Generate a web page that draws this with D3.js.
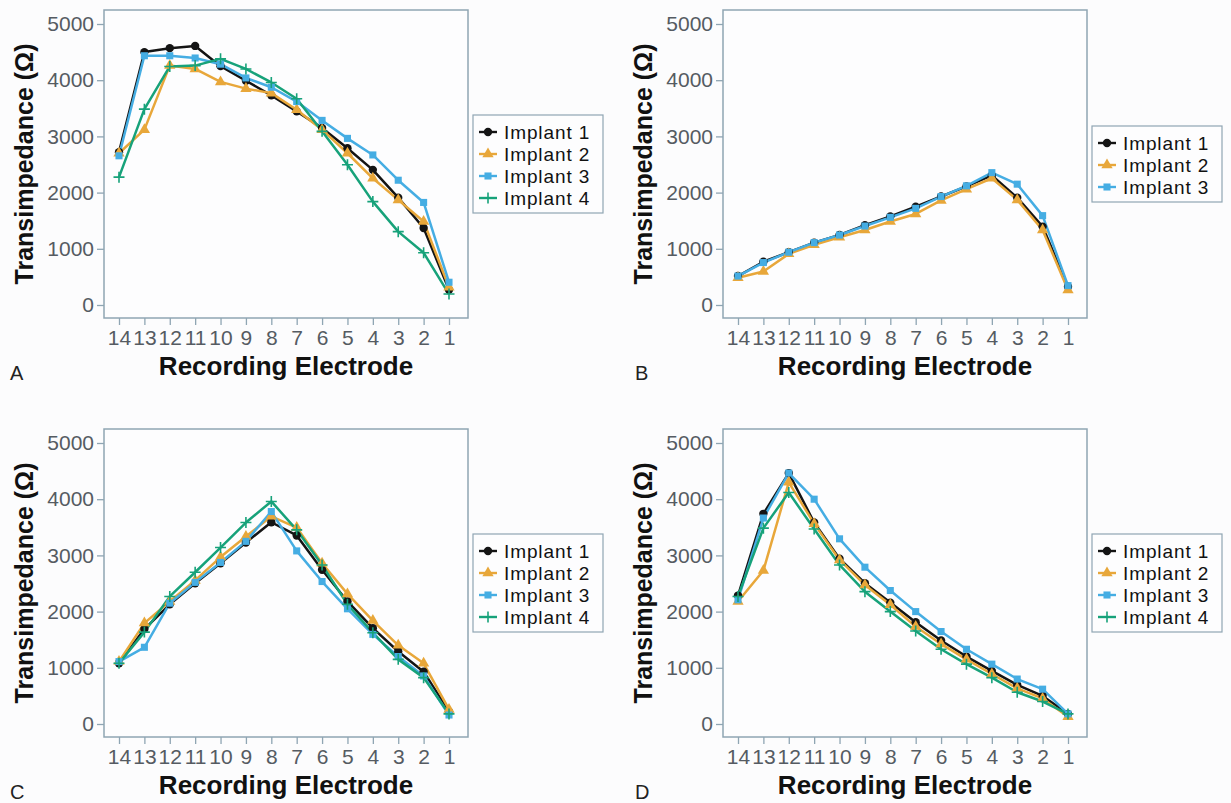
<!DOCTYPE html>
<html>
<head>
    <title>Transimpedance by recording electrode</title>
    <script src="https://d3js.org/d3.v7.min.js"></script>
    <style>
        body { margin: 0; background: #fcfcfd; }
        text { font-family: "Liberation Sans", Arial, sans-serif; }
    </style>
</head>
<body>
    <svg width="1231" height="803"></svg>
    <script>
        // Categories and tick labels
        const electrodes = ["14", "13", "12", "11", "10", "9", "8", "7", "6", "5", "4", "3", "2", "1"];
        const yTicks = [0, 1000, 2000, 3000, 4000, 5000];
        const implantNames = ["Implant 1", "Implant 2", "Implant 3", "Implant 4"];

        // Panel A
        const aImplant1 = [2720, 4500, 4570, 4610, 4250, 3990, 3730, 3445, 3150, 2790, 2405, 1910, 1370, 270];
        const aImplant2 = [2700, 3120, 4260, 4200, 3970, 3850, 3770, 3475, 3120, 2700, 2255, 1870, 1485, 315];
        const aImplant3 = [2655, 4435, 4435, 4395, 4285, 4040, 3875, 3620, 3285, 2965, 2670, 2220, 1825, 405];
        const aImplant4 = [2275, 3485, 4245, 4260, 4380, 4200, 3960, 3670, 3090, 2495, 1840, 1305, 930, 195];

        // Panel B
        const bImplant1 = [515, 770, 940, 1110, 1245, 1420, 1575, 1750, 1930, 2110, 2305, 1910, 1395, 325];
        const bImplant2 = [485, 595, 910, 1070, 1205, 1335, 1485, 1620, 1860, 2060, 2255, 1870, 1335, 265];
        const bImplant3 = [515, 755, 940, 1110, 1245, 1405, 1560, 1720, 1930, 2120, 2355, 2150, 1590, 345];

        // Panel C
        const cImplant1 = [1080, 1690, 2130, 2505, 2860, 3230, 3590, 3355, 2745, 2180, 1705, 1290, 930, 220];
        const cImplant2 = [1110, 1795, 2180, 2555, 2970, 3335, 3695, 3495, 2860, 2315, 1840, 1400, 1080, 260];
        const cImplant3 = [1110, 1365, 2150, 2520, 2875, 3250, 3780, 3080, 2535, 2050, 1595, 1200, 855, 160];
        const cImplant4 = [1080, 1635, 2270, 2700, 3140, 3585, 3960, 3455, 2830, 2130, 1625, 1150, 825, 180];

        // Panel D
        const dImplant1 = [2285, 3740, 4465, 3585, 2940, 2505, 2160, 1810, 1485, 1200, 945, 695, 500, 180];
        const dImplant2 = [2180, 2730, 4300, 3565, 2920, 2475, 2120, 1735, 1425, 1150, 890, 635, 455, 130];
        const dImplant3 = [2210, 3665, 4465, 4000, 3295, 2790, 2375, 2000, 1645, 1330, 1065, 800, 620, 180];
        const dImplant4 = [2270, 3485, 4120, 3470, 2830, 2355, 2000, 1655, 1330, 1065, 825, 565, 400, 180];

        const colors = ["#141414", "#e8a73a", "#45ade3", "#17a27a"];
        const frameColor = "#8fa5b3";
        const tickColor = "#555b62";

        const panels = [
            {letter: "A", dx: 0,   dy: 0,   series: [aImplant1, aImplant2, aImplant3, aImplant4]},
            {letter: "B", dx: 619, dy: 0,   series: [bImplant1, bImplant2, bImplant3]},
            {letter: "C", dx: 0,   dy: 419, series: [cImplant1, cImplant2, cImplant3, cImplant4]},
            {letter: "D", dx: 619, dy: 419, series: [dImplant1, dImplant2, dImplant3, dImplant4]}
        ];

        const svg = d3.select("svg");

        // marker for a series index
        function drawMarker(g, i, cx, cy, color) {
            if (i === 3) {
                g.append("path")
                    .attr("d", `M${cx - 5.5},${cy}H${cx + 5.5}M${cx},${cy - 5.5}V${cy + 5.5}`)
                    .attr("stroke", color)
                    .attr("stroke-width", 1.6)
                    .attr("fill", "none");
                return;
            }
            const types = [d3.symbolCircle, d3.symbolTriangle, d3.symbolSquare];
            const sizes = [55, 55, 50];
            g.append("path")
                .attr("d", d3.symbol().type(types[i]).size(sizes[i])())
                .attr("transform", `translate(${cx},${cy})`)
                .attr("fill", color);
        }

        panels.forEach(p => {
            const left = 104 + p.dx, top = 10 + p.dy,
                  w = 364, h = 308;

            const x = d3.scalePoint()
                .domain(electrodes)
                .range([119 + p.dx, 449 + p.dx]);
            const y = d3.scaleLinear()
                .domain([0, 5000])
                .range([305 + p.dy, 24 + p.dy]);

            const g = svg.append("g");

            // plot area
            g.append("rect")
                .attr("x", left).attr("y", top)
                .attr("width", w).attr("height", h)
                .attr("fill", "#fdfdfe")
                .attr("stroke", frameColor)
                .attr("stroke-width", 1.5);

            // Y axis
            const yAxis = g.append("g")
                .attr("transform", `translate(${left},0)`)
                .call(d3.axisLeft(y).tickValues(yTicks).tickFormat(d3.format("d"))
                    .tickSize(7).tickPadding(3));
            // X axis
            const xAxis = g.append("g")
                .attr("transform", `translate(0,${top + h})`)
                .call(d3.axisBottom(x).tickSize(7).tickPadding(5));

            [yAxis, xAxis].forEach(ax => {
                ax.select(".domain").remove();
                ax.selectAll(".tick line").attr("stroke", frameColor).attr("stroke-width", 1.3);
                ax.selectAll(".tick text")
                    .attr("fill", tickColor)
                    .style("font-size", "21px")
                    .style("font-family", "'Liberation Sans', Arial, sans-serif");
            });

            // axis titles
            g.append("text")
                .attr("x", (left + left + w) / 2)
                .attr("y", 375 + p.dy)
                .attr("text-anchor", "middle")
                .style("font-size", "26px")
                .style("font-weight", "bold")
                .attr("fill", "#111")
                .text("Recording Electrode");

            g.append("text")
                .attr("transform", `translate(${33 + p.dx},${top + h / 2}) rotate(-90)`)
                .attr("text-anchor", "middle")
                .style("font-size", "25px")
                .style("font-weight", "bold")
                .attr("fill", "#111")
                .text("Transimpedance (Ω)");

            // panel letter
            g.append("text")
                .attr("x", p.dx === 0 ? 10 : 635)
                .attr("y", 380 + p.dy)
                .style("font-size", "20px")
                .attr("fill", "#222")
                .text(p.letter);

            // lines and markers
            const line = d3.line()
                .x((d, i) => x(electrodes[i]))
                .y(d => y(d));

            p.series.forEach((vals, si) => {
                g.append("path")
                    .datum(vals)
                    .attr("d", line)
                    .attr("fill", "none")
                    .attr("stroke", colors[si])
                    .attr("stroke-width", 2.5)
                    .attr("stroke-linejoin", "round");
            });
            p.series.forEach((vals, si) => {
                vals.forEach((v, i) => drawMarker(g, si, x(electrodes[i]), y(v), colors[si]));
            });

            // legend
            const n = p.series.length;
            const rowH = 22;
            const lh = 17 + rowH * (n - 1) + 15;
            const bx = p.dx ? 1092 : 473;
            const ly = top + h / 2 - lh / 2;
            const lg = g.append("g");
            lg.append("rect")
                .attr("x", bx).attr("y", ly)
                .attr("width", 130).attr("height", lh)
                .attr("fill", "#fdfdfe")
                .attr("stroke", frameColor)
                .attr("stroke-width", 1.2);
            implantNames.slice(0, n).forEach((name, i) => {
                const cy = ly + 17 + rowH * i;
                lg.append("line")
                    .attr("x1", bx + 6).attr("x2", bx + 24)
                    .attr("y1", cy).attr("y2", cy)
                    .attr("stroke", colors[i]).attr("stroke-width", 2.4);
                drawMarker(lg, i, bx + 15, cy, colors[i]);
                lg.append("text")
                    .attr("x", bx + 31)
                    .attr("y", cy + 7)
                    .style("font-size", "19px")
                    .style("letter-spacing", "0.9px")
                    .attr("fill", "#111")
                    .text(name);
            });
        });
    </script>
</body>
</html>
